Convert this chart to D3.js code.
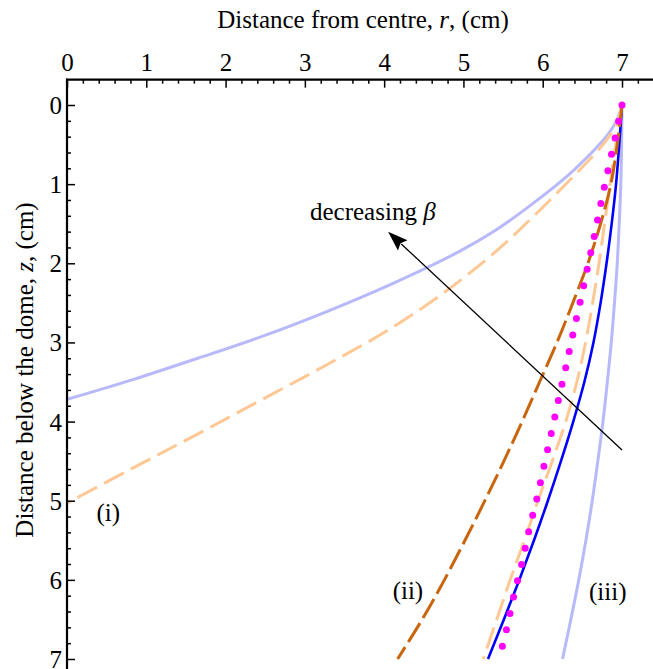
<!DOCTYPE html>
<html>
<head>
<meta charset="utf-8">
<script src="https://cdn.jsdelivr.net/npm/d3@7"></script>
<style>
  html, body { margin: 0; padding: 0; background: #fff; }
  svg { display: block; }
  text { font-family: "Liberation Serif", "Times New Roman", serif; fill: #000; }
</style>
</head>
<body>
<svg id="chart" width="653" height="669"></svg>
<script>
// Meniscus profiles: r (cm) against depth below the dome z (cm)
const xTicks = [0, 1, 2, 3, 4, 5, 6, 7];
const yTicks = [0, 1, 2, 3, 4, 5, 6, 7];

// (i) light blue, solid
const profileI_solid = [[7,0],[6.93,0.2],[6.8,0.4],[6.6,0.62],[6.33,0.88],[5.87,1.25],[5.41,1.58],[4.95,1.85],[4.12,2.25],[3.3,2.6],[2.47,2.92],[1.65,3.2],[0.83,3.47],[0,3.72]];
// (i) light orange, dashed
const profileI_dashed = [[7,0],[6.93,0.24],[6.8,0.45],[6.6,0.68],[6.33,0.96],[5.87,1.42],[5.41,1.85],[4.73,2.39],[4.04,2.85],[3.3,3.27],[2.5,3.7],[1.7,4.13],[0.9,4.55],[0,5.03]];
// (ii) dark orange, dashed
const profileII = [[7,0],[6.94,0.5],[6.86,1],[6.73,1.5],[6.57,2],[6.38,2.5],[6.18,3],[5.96,3.5],[5.74,4],[5.51,4.5],[5.27,5],[5.02,5.5],[4.76,6],[4.48,6.5],[4.17,7]];
// magenta, dotted
const profileDotted = [[7,0],[6.91,0.43],[6.82,0.84],[6.73,1.26],[6.65,1.66],[6.56,2.08],[6.47,2.5],[6.38,2.9],[6.29,3.32],[6.2,3.72],[6.11,4.14],[6.02,4.54],[5.93,4.96],[5.83,5.36],[5.74,5.78],[5.64,6.18],[5.55,6.6],[5.45,7.0]];
// light orange, dashed (close to the dotted one)
const profileMidDashed = [[7,0],[6.92,0.5],[6.85,1],[6.78,1.5],[6.71,2],[6.63,2.5],[6.54,3],[6.43,3.5],[6.29,4],[6.12,4.5],[5.94,5],[5.77,5.5],[5.59,6],[5.42,6.5],[5.25,7]];
// blue, solid
const profileBlue = [[7,0],[6.965,0.5],[6.925,1],[6.87,1.5],[6.805,2],[6.73,2.5],[6.64,3],[6.525,3.5],[6.385,4],[6.23,4.5],[6.065,5],[5.89,5.5],[5.705,6],[5.51,6.5],[5.31,7]];
// (iii) light blue, solid
const profileIII = [[7,0],[6.995,0.5],[6.985,1],[6.965,1.5],[6.94,2],[6.905,2.5],[6.865,3],[6.815,3.5],[6.76,4],[6.695,4.5],[6.625,5],[6.545,5.5],[6.455,6],[6.355,6.5],[6.25,7]];

// arrow (tail -> head) and curve labels, in data units
const arrowFrom = [7.0, 4.36];
const arrowTo = [4.05, 1.6];
const labels = [
  { text: "(i)",   r: 0.52, z: 5.25 },
  { text: "(ii)",  r: 4.3,  z: 6.24 },
  { text: "(iii)", r: 6.82, z: 6.25 }
];

const svg = d3.select("#chart");
const W = 653, H = 669;

const x = d3.scaleLinear().domain([0, 7]).range([67, 622]);
const y = d3.scaleLinear().domain([0, 7]).range([105, 659]);

const axisTop = y(-0.32);
const axisLeft = x(0);

svg.append("defs").append("clipPath").attr("id", "plotclip")
  .append("rect").attr("x", axisLeft).attr("y", axisTop).attr("width", W - axisLeft).attr("height", H - axisTop);

const plot = svg.append("g").attr("clip-path", "url(#plotclip)");

const line = d3.line()
  .x(d => x(d[0])).y(d => y(d[1]))
  .curve(d3.curveCatmullRom.alpha(0.5));

const lightBlue = "#b7b9fb";
const lightOrange = "#fec895";
const darkOrange = "#c9650c";

function draw(data, color, width, dash, cap) {
  plot.append("path")
    .datum(data)
    .attr("d", line)
    .attr("fill", "none")
    .attr("stroke", color)
    .attr("stroke-width", width)
    .attr("stroke-dasharray", dash || null)
    .attr("stroke-linecap", cap || "butt")
    .attr("stroke-linejoin", "round");
}

draw(profileIII, lightBlue, 3);
draw(profileBlue, "#0000ff", 2.6);
draw(profileI_solid, lightBlue, 3);
draw(profileI_dashed, lightOrange, 3, "22,8");
draw(profileMidDashed, lightOrange, 3, "22,8");
draw(profileII, darkOrange, 3, "22,6");
draw(profileDotted, "#ff00ff", 7, "0,16.8", "round");

// Axes: r along the top, z down the left side; ticks point inward
const xAxis = d3.axisTop(x)
  .tickValues(d3.range(0, 7.3, 0.2).map(v => +v.toFixed(1)))
  .tickSizeInner(-4).tickSizeOuter(0)
  .tickFormat(d => xTicks.includes(d) ? d : "");
const gx = svg.append("g").attr("transform", `translate(0,${axisTop})`).call(xAxis);
gx.select(".domain").remove();
gx.selectAll(".tick line")
  .attr("y2", d => xTicks.includes(d) ? 8 : 4)
  .attr("stroke-width", 1.5);
gx.selectAll(".tick text")
  .attr("y", -9).attr("dy", 0)
  .style("font-size", "25px").style("font-family", "Liberation Serif");
svg.append("line").attr("x1", axisLeft - 1).attr("x2", W).attr("y1", axisTop).attr("y2", axisTop)
  .attr("stroke", "#000").attr("stroke-width", 2.2);

const yAxis = d3.axisLeft(y)
  .tickValues(d3.range(0, 7.1, 0.2).map(v => +v.toFixed(1)))
  .tickSizeInner(-4).tickSizeOuter(0)
  .tickFormat(d => yTicks.includes(d) ? d : "");
const gy = svg.append("g").attr("transform", `translate(${axisLeft},0)`).call(yAxis);
gy.select(".domain").remove();
gy.selectAll(".tick line")
  .attr("x2", d => yTicks.includes(d) ? 8 : 4)
  .attr("stroke-width", 1.5);
gy.selectAll(".tick text")
  .attr("x", -5).attr("dy", "0.34em")
  .style("font-size", "25px").style("font-family", "Liberation Serif");
svg.append("line").attr("x1", axisLeft).attr("x2", axisLeft).attr("y1", axisTop - 1).attr("y2", H)
  .attr("stroke", "#000").attr("stroke-width", 2.2);

// Axis titles
const xt = svg.append("text").attr("x", 363).attr("y", 28).attr("text-anchor", "middle")
  .style("font-size", "25px");
xt.append("tspan").text("Distance from centre, ");
xt.append("tspan").attr("font-style", "italic").text("r");
xt.append("tspan").text(", (cm)");

const yt = svg.append("text").attr("transform", `translate(33,370) rotate(-90)`).attr("text-anchor", "middle")
  .style("font-size", "25px");
yt.append("tspan").text("Distance below the dome, ");
yt.append("tspan").attr("font-style", "italic").text("z");
yt.append("tspan").text(", (cm)");

// Arrow indicating the direction of decreasing beta
const ax1 = x(arrowFrom[0]), ay1 = y(arrowFrom[1]);
const ax2 = x(arrowTo[0]), ay2 = y(arrowTo[1]);
const ang = Math.atan2(ay2 - ay1, ax2 - ax1);
const headLen = 20, headHalf = 7;
const bx = ax2 - headLen * Math.cos(ang), by = ay2 - headLen * Math.sin(ang);
svg.append("line").attr("x1", ax1).attr("y1", ay1).attr("x2", bx + 2 * Math.cos(ang)).attr("y2", by + 2 * Math.sin(ang))
  .attr("stroke", "#000").attr("stroke-width", 1.3);
svg.append("path")
  .attr("d", `M${ax2},${ay2} L${bx - headHalf * Math.sin(ang)},${by + headHalf * Math.cos(ang)} L${bx + 3 * Math.cos(ang)},${by + 3 * Math.sin(ang)} L${bx + headHalf * Math.sin(ang)},${by - headHalf * Math.cos(ang)} Z`)
  .attr("fill", "#000");

const bt = svg.append("text").attr("x", 310).attr("y", 220).style("font-size", "25px");
bt.append("tspan").text("decreasing ");
bt.append("tspan").attr("font-style", "italic").text("β");

svg.selectAll(".curve-label").data(labels).enter().append("text")
  .attr("class", "curve-label")
  .attr("x", d => x(d.r)).attr("y", d => y(d.z))
  .attr("text-anchor", "middle")
  .style("font-size", "25px")
  .text(d => d.text);
</script>
</body>
</html>
